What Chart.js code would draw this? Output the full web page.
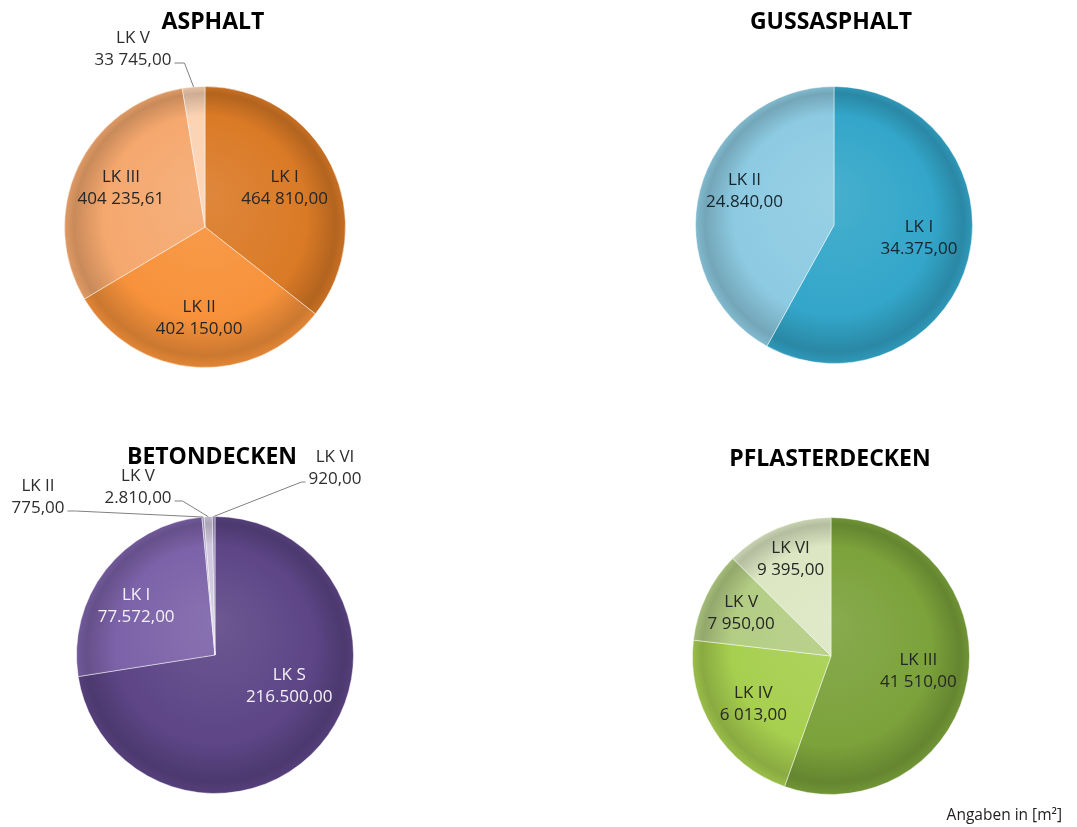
<!DOCTYPE html>
<html>
<head>
<meta charset="utf-8">
<script src="https://cdn.jsdelivr.net/npm/chart.js@4.4.0/dist/chart.umd.min.js"></script>
<style>
body { margin: 0; background: #fff; width: 1077px; height: 827px; position: relative; overflow: hidden; font-family: "Open Sans", sans-serif; }
.box { position: absolute; }
.title { position: absolute; font-weight: bold; font-size: 23px; line-height: 1; color: #000; transform: translateX(-50%); white-space: nowrap; }
#note { position: absolute; right: 15px; top: 807px; font-size: 15.5px; line-height: 1; color: #222; }
</style>
</head>
<body>
<div class="box" style="left:0;top:0;width:538px;height:413px"><canvas id="asphalt"></canvas></div>
<div class="box" style="left:538px;top:0;width:539px;height:413px"><canvas id="guss"></canvas></div>
<div class="box" style="left:0;top:413px;width:538px;height:414px"><canvas id="beton"></canvas></div>
<div class="box" style="left:538px;top:413px;width:539px;height:414px"><canvas id="pflaster"></canvas></div>
<div class="title" style="left:213px;top:9px">ASPHALT</div>
<div class="title" style="left:831px;top:9px">GUSSASPHALT</div>
<div class="title" style="left:212px;top:444px">BETONDECKEN</div>
<div class="title" style="left:830px;top:446px">PFLASTERDECKEN</div>
<div id="note">Angaben in [m²]</div>
<script>
// Asphalt
const asphaltLabels = ['LK I', 'LK II', 'LK III', 'LK V'];
const asphaltValues = [464810, 402150, 404235.61, 33745];
const asphaltText = ['464 810,00', '402 150,00', '404 235,61', '33 745,00'];
const asphaltColors = ['#da7a26', '#f7923b', '#f5a86e', '#fbd3b4'];

// Gussasphalt
const gussLabels = ['LK I', 'LK II'];
const gussValues = [34375, 24840];
const gussText = ['34.375,00', '24.840,00'];
const gussColors = ['#33a6c9', '#8dcbe2'];

// Betondecken
const betonLabels = ['LK S', 'LK I', 'LK II', 'LK V', 'LK VI'];
const betonValues = [216500, 77572, 775, 2810, 920];
const betonText = ['216.500,00', '77.572,00', '775,00', '2.810,00', '920,00'];
const betonColors = ['#5d4586', '#7c62a8', '#b4aacb', '#cfc8de', '#9d92ba'];

// Pflasterdecken
// the LK IV slice in the picture spans ~77 degrees (about 16 013), its label reads 6 013,00
const pflasterLabels = ['LK III', 'LK IV', 'LK V', 'LK VI'];
const pflasterValues = [41510, 16013, 7950, 9395];
const pflasterText = ['41 510,00', '6 013,00', '7 950,00', '9 395,00'];
const pflasterColors = ['#7ba23b', '#a7cf4f', '#b3cd84', '#dce6c2'];

function mix(hex, to, t) {
	const a = parseInt(hex.slice(1), 16), b = parseInt(to.slice(1), 16);
	const ch = s => Math.round(((a >> s) & 255) * (1 - t) + ((b >> s) & 255) * t);
	return 'rgb(' + ch(16) + ',' + ch(8) + ',' + ch(0) + ')';
}

function shade(ctx, base) {
	const a = ctx.chart.chartArea;
	if (!a) return base;
	const cx = (a.left + a.right) / 2, cy = (a.top + a.bottom) / 2;
	const r = Math.min(a.width, a.height) / 2;
	const g = ctx.chart.ctx.createRadialGradient(cx, cy - r * 0.25, 0, cx, cy, r);
	g.addColorStop(0, mix(base, '#ffffff', 0.1));
	g.addColorStop(0.72, base);
	g.addColorStop(0.93, mix(base, '#000000', 0.18));
	g.addColorStop(1, mix(base, '#000000', 0.08));
	return g;
}

const sliceLabels = {
	id: 'sliceLabels',
	afterDatasetsDraw(chart, args, o) {
		const ctx = chart.ctx;
		const arcs = chart.getDatasetMeta(0).data;
		ctx.save();
		ctx.font = '17px "Open Sans"';
		ctx.textAlign = 'center';
		ctx.textBaseline = 'middle';
		arcs.forEach((arc, i) => {
			const p = arc.getProps(['x', 'y', 'startAngle', 'endAngle', 'outerRadius'], true);
			const mid = (p.startAngle + p.endAngle) / 2;
			const out = o.outside && o.outside[i];
			let tx, ty;
			if (out) {
				tx = p.x + out.dx;
				ty = p.y + out.dy;
				const ex = p.x + Math.cos(mid) * p.outerRadius, ey = p.y + Math.sin(mid) * p.outerRadius;
				const w = ctx.measureText(o.texts[i]).width;
				const side = tx < ex ? 1 : -1;
				const sx = tx + side * (w / 2 + 3), sy = ty + o.lh / 2 + 3;
				ctx.beginPath();
				ctx.moveTo(sx, sy);
				ctx.lineTo(sx + side * out.tail, sy);
				ctx.lineTo(ex, ey);
				ctx.strokeStyle = '#808080';
				ctx.lineWidth = 1;
				ctx.stroke();
				ctx.fillStyle = o.outColor;
			} else {
				const f = (o.frac && o.frac[i]) || 0.65;
				const a = mid + ((o.rot && o.rot[i]) || 0) * Math.PI / 180;
				tx = p.x + Math.cos(a) * p.outerRadius * f;
				ty = p.y + Math.sin(a) * p.outerRadius * f;
				ctx.fillStyle = o.color;
			}
			ctx.fillText(chart.data.labels[i], tx, ty - o.lh / 2);
			ctx.fillText(o.texts[i], tx, ty + o.lh / 2);
		});
		ctx.restore();
	}
};

function pie(id, labels, values, colors, pos, lab) {
	const canvas = document.getElementById(id);
	const box = canvas.parentNode;
	const W = box.clientWidth, H = box.clientHeight;
	const x0 = box.offsetLeft, y0 = box.offsetTop;
	new Chart(canvas, {
		type: 'pie',
		data: {
			labels: labels,
			datasets: [{
				data: values,
				backgroundColor: c => shade(c, colors[c.dataIndex]),
				borderColor: 'rgba(255,255,255,0.45)',
				borderWidth: 1,
				hoverOffset: 0,
			}]
		},
		options: {
			responsive: true,
			maintainAspectRatio: false,
			animation: false,
			layout: {
				padding: {
					left: pos.cx - pos.r - x0,
					top: pos.cy - pos.r - y0,
					right: W - (pos.cx + pos.r - x0),
					bottom: H - (pos.cy + pos.r - y0),
				}
			},
			plugins: {
				legend: { display: false },
				tooltip: { enabled: false },
				sliceLabels: lab,
			}
		},
		plugins: [sliceLabels]
	});
}

pie('asphalt', asphaltLabels, asphaltValues, asphaltColors, { cx: 205, cy: 227, r: 141 }, {
	texts: asphaltText, color: '#262626', outColor: '#2e2e2e', lh: 22,
	frac: [0.63, 0.65, 0.66],
	outside: { 3: { dx: -72, dy: -178, tail: 10 } }
});

pie('guss', gussLabels, gussValues, gussColors, { cx: 834, cy: 225, r: 139 }, {
	texts: gussText, color: '#16242c', lh: 22,
	frac: [0.62, 0.69], rot: [-6, 6]
});

pie('beton', betonLabels, betonValues, betonColors, { cx: 215, cy: 655, r: 139 }, {
	texts: betonText, color: '#f4f2f8', outColor: '#2e2e2e', lh: 22,
	frac: [0.58, 0.67], rot: [-18, -6],
	outside: {
		2: { dx: -177, dy: -158, tail: 8 },
		3: { dx: -77, dy: -168, tail: 8 },
		4: { dx: 120, dy: -187, tail: 4 },
	}
});

pie('pflaster', pflasterLabels, pflasterValues, pflasterColors, { cx: 831, cy: 656, r: 139 }, {
	texts: pflasterText, color: '#262626', lh: 22,
	frac: [0.64, 0.66, 0.72, 0.76]
});
</script>
</body>
</html>
